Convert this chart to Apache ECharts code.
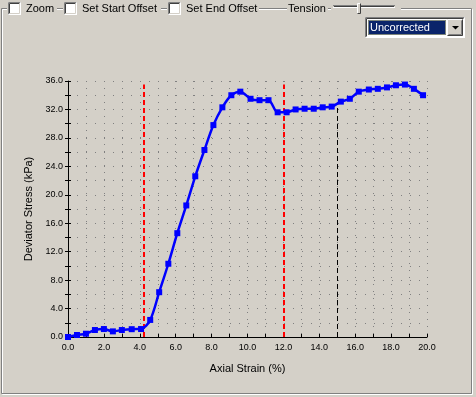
<!DOCTYPE html>
<html><head><meta charset="utf-8">
<script src="https://cdn.jsdelivr.net/npm/echarts@6/dist/echarts.min.js"></script>
<style>html,body{margin:0;padding:0;background:#d4d0c8;}#c{width:476px;height:397px;}</style>
</head><body><div id="c"></div>
<script>
// ---- data ----
const strain = [0, 0.5, 1.0, 1.5, 2.0, 2.5, 3.0, 3.55, 4.07, 4.58, 5.08, 5.59, 6.09, 6.59, 7.09, 7.6, 8.1, 8.6, 9.1, 9.6, 10.17, 10.67, 11.17, 11.68, 12.18, 12.68, 13.18, 13.69, 14.19, 14.69, 15.2, 15.7, 16.2, 16.76, 17.26, 17.77, 18.27, 18.77, 19.27, 19.78];
const stress = [0, 0.28, 0.46, 0.98, 1.12, 0.79, 0.98, 1.1, 1.12, 2.4, 6.3, 10.3, 14.6, 18.5, 22.6, 26.3, 29.8, 32.3, 34.0, 34.5, 33.5, 33.3, 33.3, 31.6, 31.6, 32.0, 32.1, 32.1, 32.3, 32.4, 33.1, 33.5, 34.5, 34.8, 34.9, 35.1, 35.4, 35.5, 34.9, 34.0];
const offsetStrains = [4.22, 12.0];   // red dashed (start / end offset)
const offsetTop = 35.5;
const refStrain = 15.0;               // black dashed
const refTop = 32.9;
const xTitle = 'Axial Strain (%)';
const yTitle = 'Deviator Stress (kPa)';
const checkLabels = ['Zoom', 'Set Start Offset', 'Set End Offset'];
const comboText = 'Uncorrected';

const FONT = 'Liberation Sans, Arial, sans-serif';
const BG = '#d4d0c8';
const points = strain.map((x, i) => [x, stress[i]]);

const dotted = (dash) => ({ show: true, lineStyle: { color: '#808080', width: 1, type: dash } });

const markData = offsetStrains.map(x => [
  { coord: [x, 0], lineStyle: { color: '#ff0000', width: 2, type: [5, 3] } },
  { coord: [x, offsetTop] }
]);
markData.push([
  { coord: [refStrain, 0], lineStyle: { color: '#000000', width: 1, type: [5, 3] } },
  { coord: [refStrain, refTop] }
]);

// ---- top controls (graphic) ----
const g = [];
g.push({ type: 'rect', shape: { x: 2.5, y: 9.5, width: 470, height: 385 }, style: { fill: null, stroke: '#ffffff', lineWidth: 1 }, z: 1 });
g.push({ type: 'rect', shape: { x: 1.5, y: 8.5, width: 470, height: 385 }, style: { fill: null, stroke: '#808080', lineWidth: 1 }, z: 1 });
[[7, 50], [63, 98], [167, 92], [287, 41], [331, 70]].forEach(p => {
  g.push({ type: 'rect', shape: { x: p[0], y: 2, width: p[1], height: 14 }, style: { fill: BG }, z: 2 });
});
function checkbox(x, y) {
  g.push({ type: 'rect', shape: { x: x, y: y, width: 13, height: 13 }, style: { fill: '#ffffff' }, z: 3 });
  g.push({ type: 'polyline', shape: { points: [[x + 0.5, y + 12.5], [x + 0.5, y + 0.5], [x + 12.5, y + 0.5]] }, style: { stroke: '#808080', lineWidth: 1, fill: null }, z: 4 });
  g.push({ type: 'polyline', shape: { points: [[x + 1.5, y + 11.5], [x + 1.5, y + 1.5], [x + 11.5, y + 1.5]] }, style: { stroke: '#404040', lineWidth: 1, fill: null }, z: 4 });
  g.push({ type: 'polyline', shape: { points: [[x + 0.5, y + 12.5], [x + 12.5, y + 12.5], [x + 12.5, y + 0.5]] }, style: { stroke: '#ffffff', lineWidth: 1, fill: null }, z: 4 });
  g.push({ type: 'polyline', shape: { points: [[x + 1.5, y + 11.5], [x + 11.5, y + 11.5], [x + 11.5, y + 1.5]] }, style: { stroke: BG, lineWidth: 1, fill: null }, z: 4 });
}
const cbX = [8, 64, 168];
const txX = [26, 82, 186];
checkLabels.forEach((t, i) => {
  checkbox(cbX[i], 2);
  g.push({ type: 'text', x: txX[i], y: 8.5, style: { text: t, font: '11px ' + FONT, fill: '#000000', textVerticalAlign: 'middle' }, z: 5 });
});
g.push({ type: 'text', x: 288, y: 8.5, style: { text: 'Tension', font: '11px ' + FONT, fill: '#000000', textVerticalAlign: 'middle' }, z: 5 });
g.push({ type: 'line', shape: { x1: 333, y1: 5.5, x2: 395, y2: 5.5 }, style: { stroke: '#808080', lineWidth: 1 }, z: 4 });
g.push({ type: 'line', shape: { x1: 334, y1: 6.5, x2: 394, y2: 6.5 }, style: { stroke: '#404040', lineWidth: 1 }, z: 4 });
g.push({ type: 'line', shape: { x1: 333, y1: 7.5, x2: 395, y2: 7.5 }, style: { stroke: '#ffffff', lineWidth: 1 }, z: 4 });
g.push({ type: 'rect', shape: { x: 357, y: 3, width: 4, height: 11 }, style: { fill: BG }, z: 5 });
g.push({ type: 'polyline', shape: { points: [[357.5, 13.5], [357.5, 3.5], [360.5, 3.5]] }, style: { stroke: '#ffffff', lineWidth: 1, fill: null }, z: 6 });
g.push({ type: 'polyline', shape: { points: [[357.5, 13.5], [360.5, 13.5], [360.5, 3.5]] }, style: { stroke: '#404040', lineWidth: 1, fill: null }, z: 6 });
g.push({ type: 'rect', shape: { x: 365, y: 17, width: 100, height: 21 }, style: { fill: '#ffffff' }, z: 3 });
g.push({ type: 'polyline', shape: { points: [[365.5, 37.5], [365.5, 17.5], [464.5, 17.5]] }, style: { stroke: '#808080', lineWidth: 1, fill: null }, z: 4 });
g.push({ type: 'polyline', shape: { points: [[366.5, 36.5], [366.5, 18.5], [463.5, 18.5]] }, style: { stroke: '#404040', lineWidth: 1, fill: null }, z: 4 });
g.push({ type: 'polyline', shape: { points: [[365.5, 37.5], [464.5, 37.5], [464.5, 17.5]] }, style: { stroke: '#ffffff', lineWidth: 1, fill: null }, z: 4 });
g.push({ type: 'rect', shape: { x: 368, y: 20, width: 78, height: 15 }, style: { fill: '#0a246a' }, z: 4 });
g.push({ type: 'rect', shape: { x: 368.5, y: 20.5, width: 77, height: 14 }, style: { fill: null, stroke: '#f0e68c', lineWidth: 1, lineDash: [1, 1] }, z: 5 });
g.push({ type: 'text', x: 370, y: 27.5, style: { text: comboText, font: '11px ' + FONT, fill: '#ffffff', textVerticalAlign: 'middle' }, z: 6 });
g.push({ type: 'rect', shape: { x: 447, y: 19, width: 16, height: 17 }, style: { fill: BG }, z: 4 });
g.push({ type: 'polyline', shape: { points: [[447.5, 35.5], [447.5, 19.5], [462.5, 19.5]] }, style: { stroke: '#ffffff', lineWidth: 1, fill: null }, z: 5 });
g.push({ type: 'polyline', shape: { points: [[447.5, 35.5], [462.5, 35.5], [462.5, 19.5]] }, style: { stroke: '#404040', lineWidth: 1, fill: null }, z: 5 });
g.push({ type: 'polyline', shape: { points: [[448.5, 34.5], [461.5, 34.5], [461.5, 20.5]] }, style: { stroke: '#808080', lineWidth: 1, fill: null }, z: 5 });
g.push({ type: 'polygon', shape: { points: [[452, 26], [459, 26], [455.5, 29.5]] }, style: { fill: '#000000' }, z: 6 });

const chart = echarts.init(document.getElementById('c'), null, { renderer: 'canvas' });
chart.setOption({
  animation: false,
  backgroundColor: BG,
  textStyle: { fontFamily: FONT },
  graphic: g,
  grid: { left: 68, right: 49, top: 81, bottom: 60 },
  xAxis: {
    type: 'value', min: 0, max: 20, interval: 2,
    name: xTitle, nameLocation: 'middle', nameGap: 26,
    nameTextStyle: { fontSize: 11, color: '#000', fontFamily: FONT },
    axisLine: { show: true, onZero: false, lineStyle: { color: '#000', width: 1 } },
    axisTick: { show: true, inside: true, length: 3, lineStyle: { color: '#000' } },
    minorTick: { show: true, splitNumber: 2, length: 3, lineStyle: { color: '#000' } },
    axisLabel: { fontSize: 9, color: '#000', margin: 6, fontFamily: FONT, formatter: v => v.toFixed(1) },
    splitLine: dotted([1, 6]),
    minorSplitLine: dotted([1, 6])
  },
  yAxis: [{
    type: 'value', min: 0, max: 36, interval: 4,
    name: yTitle, nameLocation: 'middle', nameGap: 30,
    nameTextStyle: { fontSize: 11, color: '#000', fontFamily: FONT },
    axisLine: { show: true, onZero: false, lineStyle: { color: '#000', width: 1 } },
    axisTick: { show: true, inside: false, length: 3, lineStyle: { color: '#000' } },
    minorTick: { show: true, splitNumber: 2, length: 3, lineStyle: { color: '#000' } },
    axisLabel: { fontSize: 9, color: '#000', margin: 5, fontFamily: FONT, formatter: v => v.toFixed(1) },
    splitLine: dotted([1, 8]),
    minorSplitLine: dotted([1, 8])
  }, {
    type: 'value', min: 0, max: 36, interval: 2, position: 'left', offset: 0,
    axisLine: { show: false },
    axisTick: { show: true, inside: true, length: 3, lineStyle: { color: '#000' } },
    axisLabel: { show: false },
    splitLine: { show: false }
  }],
  series: [{
    type: 'line',
    data: points,
    smooth: 0.3,
    symbol: 'rect',
    symbolSize: 6,
    showSymbol: true,
    itemStyle: { color: '#0000ff' },
    lineStyle: { color: '#0000ff', width: 2.5 },
    z: 3,
    markLine: { silent: true, symbol: ['none', 'none'], label: { show: false }, data: markData, z: 2 }
  }]
});
</script></body></html>
